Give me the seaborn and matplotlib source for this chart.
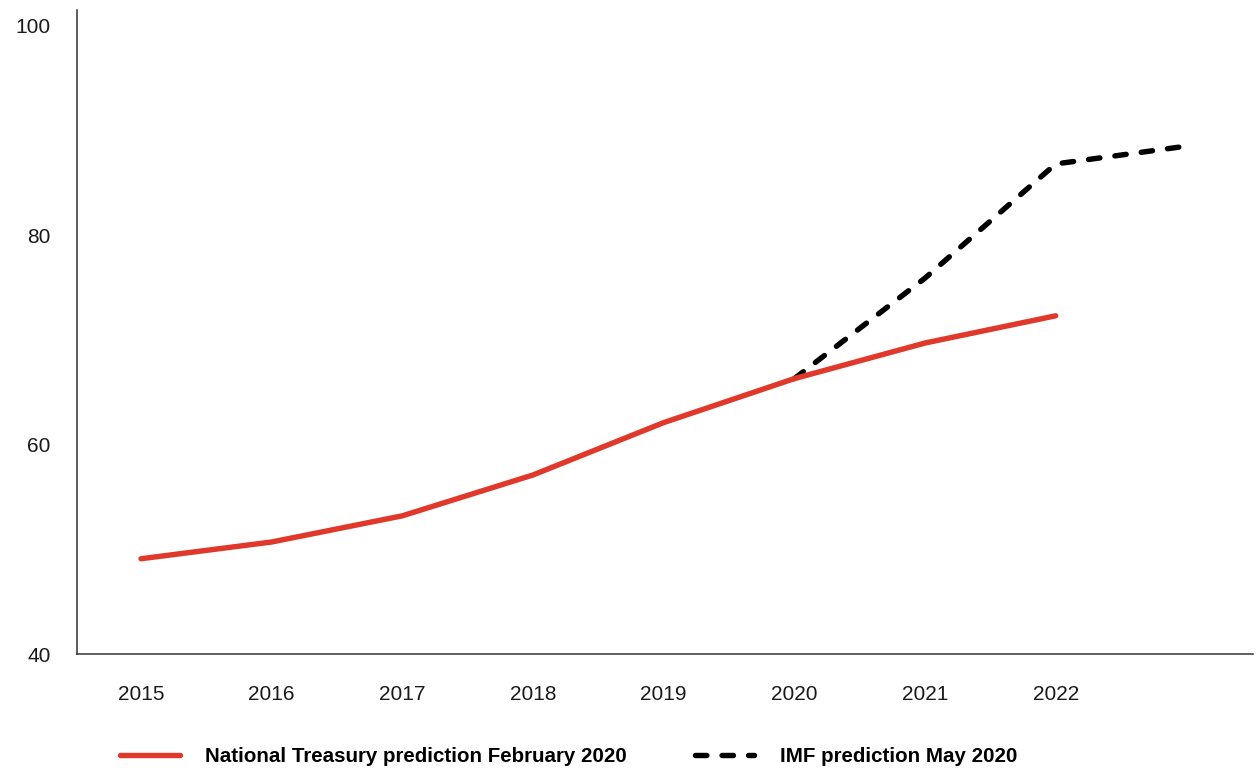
import pandas as pd
import matplotlib
matplotlib.use('Agg')
import matplotlib.pyplot as plt
import seaborn as sns

# Data
treasury_years = [2015, 2016, 2017, 2018, 2019, 2020, 2021, 2022]
treasury_values = [49.1, 50.7, 53.2, 57.1, 62.1, 66.3, 69.7, 72.3]

imf_years = [2020, 2021, 2022, 2023]
imf_values = [66.3, 75.9, 86.8, 88.5]

tick_years = [2015, 2016, 2017, 2018, 2019, 2020, 2021, 2022]
y_ticks = [40, 60, 80, 100]

treasury = pd.DataFrame({'Year': treasury_years, 'Value': treasury_values})
imf = pd.DataFrame({'Year': imf_years, 'Value': imf_values})

sns.set_style('white')
plt.rcParams['font.family'] = ['Liberation Sans', 'DejaVu Sans']

fig = plt.figure(figsize=(12.56, 7.7), dpi=100)
ax = fig.add_axes([0.0613, 0.1506, 0.9363, 0.8364])

sns.lineplot(x='Year', y='Value', data=imf, ax=ax, color='black', linewidth=3.9,
             linestyle=(0, (2.1, 2.8)), dash_capstyle='round', zorder=2,
             label='IMF prediction May 2020')
sns.lineplot(x='Year', y='Value', data=treasury, ax=ax, color='#e0392b', linewidth=3.9,
             solid_capstyle='round', zorder=3,
             label='National Treasury prediction February 2020')

ax.set_xlim(2014.51, 2023.51)
ax.set_ylim(40, 101.5)
ax.set_xticks(tick_years)
ax.set_xticklabels([str(y) for y in tick_years])
ax.set_yticks(y_ticks)
ax.tick_params(axis='both', length=0, labelsize=15, colors='#1a1a1a')
ax.tick_params(axis='y', pad=19)
ax.tick_params(axis='x', pad=22)
ax.set_xlabel('')
ax.set_ylabel('')

sns.despine(ax=ax)
for side in ['left', 'bottom']:
    ax.spines[side].set_color('#333333')
    ax.spines[side].set_linewidth(1.1)

handles, labels = ax.get_legend_handles_labels()
ax.get_legend().remove()
leg = fig.legend(handles[::-1], labels[::-1], loc='center left', bbox_to_anchor=(0.0955, 0.017),
                 ncol=2, frameon=False, handlelength=2.9, handletextpad=1.25,
                 columnspacing=3.3, borderpad=0, borderaxespad=0,
                 prop={'size': 14.8, 'weight': 'bold'})
for t in leg.get_texts():
    t.set_color('black')

fig.savefig('out.png', dpi=100)
